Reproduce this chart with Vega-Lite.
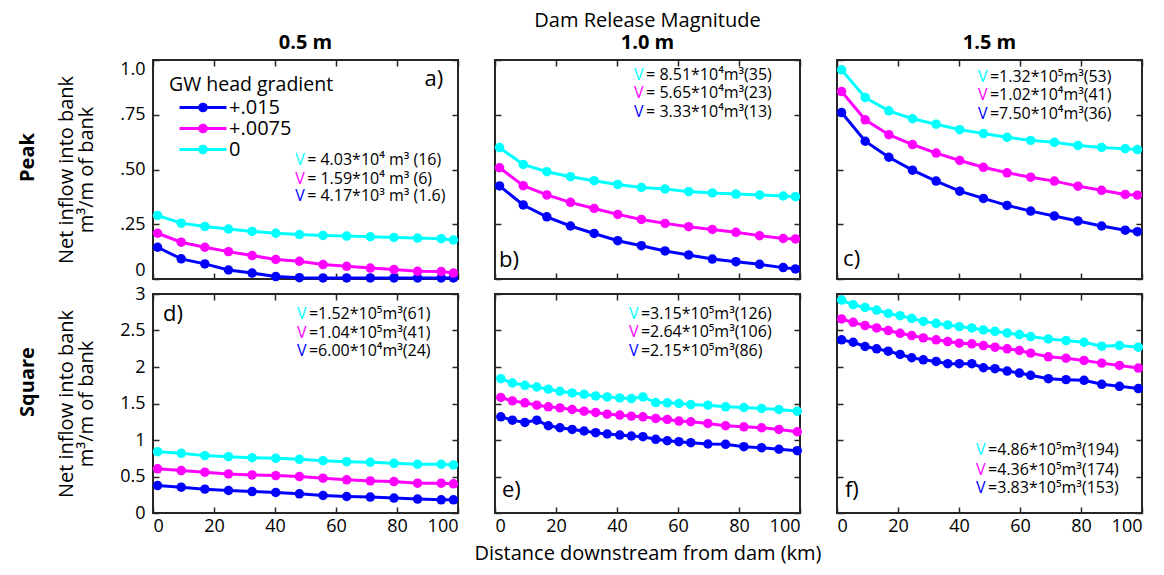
{
"$schema":"https://vega.github.io/schema/vega-lite/v6.json",
"background":"white",
"padding":{"left":17,"top":10,"right":5,"bottom":5},
"config":{
 "font":"Open Sans",
 "view":{"stroke":"#262626","strokeWidth":2},
 "axis":{"domain":false,"grid":false,"tickColor":"#262626","tickWidth":1.5,"tickSize":-6,"labelFontSize":18,"labelColor":"black","titleFontSize":20,"titleFontWeight":"normal","titleColor":"black","titleLineHeight":20},
 "axisX":{"labelPadding":10,"titlePadding":8},
 "axisY":{"labelPadding":14,"titlePadding":23},
 "title":{"fontSize":20,"color":"black","offset":6,"fontWeight":"normal","subtitleColor":"black","subtitleFontSize":20,"subtitleFontWeight":"bold","subtitlePadding":2,"subtitleFont":"Open Sans"},
 "range":{"category":["#0000ff","#ff00ff","#00ffff"]}
},
"datasets":{
"curves":[
{"panel":"a","km":1.5,"high":0.145,"mid":0.209,"none":0.29},
{"panel":"a","km":9.25,"high":0.092,"mid":0.168,"none":0.255},
{"panel":"a","km":17,"high":0.069,"mid":0.145,"none":0.24},
{"panel":"a","km":24.75,"high":0.041,"mid":0.125,"none":0.228},
{"panel":"a","km":32.5,"high":0.027,"mid":0.107,"none":0.217},
{"panel":"a","km":40.25,"high":0.011,"mid":0.089,"none":0.209},
{"panel":"a","km":48,"high":0.006,"mid":0.081,"none":0.203},
{"panel":"a","km":55.75,"high":0.005,"mid":0.066,"none":0.199},
{"panel":"a","km":63.5,"high":0.005,"mid":0.058,"none":0.196},
{"panel":"a","km":71.25,"high":0.005,"mid":0.05,"none":0.193},
{"panel":"a","km":79,"high":0.005,"mid":0.043,"none":0.19},
{"panel":"a","km":86.75,"high":0.005,"mid":0.035,"none":0.187},
{"panel":"a","km":94.5,"high":0.005,"mid":0.034,"none":0.184},
{"panel":"a","km":98.5,"high":0.005,"mid":0.027,"none":0.178},
{"panel":"b","km":1.5,"high":0.425,"mid":0.508,"none":0.6},
{"panel":"b","km":9.25,"high":0.338,"mid":0.426,"none":0.523},
{"panel":"b","km":17,"high":0.284,"mid":0.384,"none":0.49},
{"panel":"b","km":24.75,"high":0.242,"mid":0.35,"none":0.467},
{"panel":"b","km":32.5,"high":0.208,"mid":0.322,"none":0.449},
{"panel":"b","km":40.25,"high":0.175,"mid":0.295,"none":0.432},
{"panel":"b","km":48,"high":0.152,"mid":0.272,"none":0.418},
{"panel":"b","km":55.75,"high":0.128,"mid":0.254,"none":0.411},
{"panel":"b","km":63.5,"high":0.11,"mid":0.239,"none":0.399},
{"panel":"b","km":71.25,"high":0.091,"mid":0.226,"none":0.393},
{"panel":"b","km":79,"high":0.079,"mid":0.213,"none":0.388},
{"panel":"b","km":86.75,"high":0.067,"mid":0.198,"none":0.384},
{"panel":"b","km":94.5,"high":0.052,"mid":0.185,"none":0.379},
{"panel":"b","km":98.5,"high":0.046,"mid":0.183,"none":0.376},
{"panel":"c","km":1.5,"high":0.76,"mid":0.856,"none":0.955},
{"panel":"c","km":9.25,"high":0.629,"mid":0.727,"none":0.829},
{"panel":"c","km":17,"high":0.556,"mid":0.659,"none":0.768},
{"panel":"c","km":24.75,"high":0.497,"mid":0.614,"none":0.732},
{"panel":"c","km":32.5,"high":0.447,"mid":0.575,"none":0.707},
{"panel":"c","km":40.25,"high":0.401,"mid":0.541,"none":0.682},
{"panel":"c","km":48,"high":0.368,"mid":0.51,"none":0.664},
{"panel":"c","km":55.75,"high":0.336,"mid":0.485,"none":0.647},
{"panel":"c","km":63.5,"high":0.31,"mid":0.465,"none":0.633},
{"panel":"c","km":71.25,"high":0.288,"mid":0.447,"none":0.624},
{"panel":"c","km":79,"high":0.265,"mid":0.424,"none":0.61},
{"panel":"c","km":86.75,"high":0.242,"mid":0.405,"none":0.601},
{"panel":"c","km":94.5,"high":0.223,"mid":0.386,"none":0.595},
{"panel":"c","km":98.5,"high":0.216,"mid":0.383,"none":0.591},
{"panel":"d","km":1.5,"high":0.376,"mid":0.605,"none":0.84},
{"panel":"d","km":9.25,"high":0.354,"mid":0.581,"none":0.817},
{"panel":"d","km":17,"high":0.327,"mid":0.559,"none":0.786},
{"panel":"d","km":24.75,"high":0.308,"mid":0.535,"none":0.772},
{"panel":"d","km":32.5,"high":0.294,"mid":0.522,"none":0.758},
{"panel":"d","km":40.25,"high":0.281,"mid":0.512,"none":0.749},
{"panel":"d","km":48,"high":0.263,"mid":0.499,"none":0.736},
{"panel":"d","km":55.75,"high":0.24,"mid":0.477,"none":0.717},
{"panel":"d","km":63.5,"high":0.226,"mid":0.454,"none":0.703},
{"panel":"d","km":71.25,"high":0.218,"mid":0.44,"none":0.695},
{"panel":"d","km":79,"high":0.204,"mid":0.431,"none":0.681},
{"panel":"d","km":86.75,"high":0.191,"mid":0.409,"none":0.668},
{"panel":"d","km":94.5,"high":0.181,"mid":0.409,"none":0.668},
{"panel":"d","km":98.5,"high":0.181,"mid":0.4,"none":0.658},
{"panel":"e","km":1.9,"high":1.318,"mid":1.582,"none":1.84},
{"panel":"e","km":5.7,"high":1.272,"mid":1.536,"none":1.781},
{"panel":"e","km":9.8,"high":1.241,"mid":1.509,"none":1.749},
{"panel":"e","km":13.7,"high":1.272,"mid":1.477,"none":1.726},
{"panel":"e","km":17.5,"high":1.195,"mid":1.454,"none":1.695},
{"panel":"e","km":21.3,"high":1.168,"mid":1.44,"none":1.668},
{"panel":"e","km":25.3,"high":1.145,"mid":1.418,"none":1.645},
{"panel":"e","km":29.2,"high":1.123,"mid":1.395,"none":1.627},
{"panel":"e","km":33,"high":1.1,"mid":1.377,"none":1.604},
{"panel":"e","km":36.8,"high":1.082,"mid":1.354,"none":1.59},
{"panel":"e","km":40.9,"high":1.068,"mid":1.341,"none":1.577},
{"panel":"e","km":44.7,"high":1.055,"mid":1.327,"none":1.568},
{"panel":"e","km":48.5,"high":1.045,"mid":1.318,"none":1.59},
{"panel":"e","km":52.7,"high":1.009,"mid":1.295,"none":1.513},
{"panel":"e","km":56.5,"high":0.99,"mid":1.282,"none":1.509},
{"panel":"e","km":60.3,"high":0.977,"mid":1.259,"none":1.5},
{"panel":"e","km":64.2,"high":0.963,"mid":1.25,"none":1.486},
{"panel":"e","km":69.8,"high":0.945,"mid":1.227,"none":1.477},
{"panel":"e","km":75.6,"high":0.941,"mid":1.195,"none":1.454},
{"panel":"e","km":81.6,"high":0.909,"mid":1.181,"none":1.445},
{"panel":"e","km":87.4,"high":0.895,"mid":1.168,"none":1.432},
{"panel":"e","km":93.1,"high":0.873,"mid":1.145,"none":1.418},
{"panel":"e","km":99.1,"high":0.854,"mid":1.113,"none":1.395},
{"panel":"f","km":1.5,"high":2.372,"mid":2.658,"none":2.917},
{"panel":"f","km":5.3,"high":2.339,"mid":2.612,"none":2.853},
{"panel":"f","km":9.2,"high":2.281,"mid":2.567,"none":2.816},
{"panel":"f","km":13,"high":2.249,"mid":2.535,"none":2.78},
{"panel":"f","km":16.8,"high":2.217,"mid":2.499,"none":2.734},
{"panel":"f","km":20.7,"high":2.172,"mid":2.462,"none":2.703},
{"panel":"f","km":24.5,"high":2.127,"mid":2.431,"none":2.666},
{"panel":"f","km":28.3,"high":2.099,"mid":2.399,"none":2.625},
{"panel":"f","km":32.5,"high":2.076,"mid":2.372,"none":2.598},
{"panel":"f","km":36.3,"high":2.045,"mid":2.349,"none":2.576},
{"panel":"f","km":40.1,"high":2.045,"mid":2.326,"none":2.553},
{"panel":"f","km":44.2,"high":2.045,"mid":2.317,"none":2.535},
{"panel":"f","km":48,"high":1.99,"mid":2.294,"none":2.508},
{"panel":"f","km":51.8,"high":1.977,"mid":2.271,"none":2.489},
{"panel":"f","km":55.8,"high":1.944,"mid":2.249,"none":2.467},
{"panel":"f","km":59.8,"high":1.917,"mid":2.226,"none":2.444},
{"panel":"f","km":63.5,"high":1.886,"mid":2.19,"none":2.417},
{"panel":"f","km":69.3,"high":1.84,"mid":2.14,"none":2.385},
{"panel":"f","km":75.1,"high":1.827,"mid":2.12,"none":2.362},
{"panel":"f","km":81,"high":1.817,"mid":2.09,"none":2.339},
{"panel":"f","km":86.8,"high":1.763,"mid":2.053,"none":2.285},
{"panel":"f","km":92.6,"high":1.736,"mid":2.022,"none":2.294},
{"panel":"f","km":98.8,"high":1.704,"mid":1.985,"none":2.271}
],
"notes":[
{"panel":"a","gradient":"none","rest":"= 4.03*10⁴ m³ (16)"},
{"panel":"a","gradient":"mid","rest":"= 1.59*10⁴ m³ (6)"},
{"panel":"a","gradient":"high","rest":"= 4.17*10³ m³ (1.6)"},
{"panel":"b","gradient":"none","rest":"= 8.51*10⁴m³(35)"},
{"panel":"b","gradient":"mid","rest":"= 5.65*10⁴m³(23)"},
{"panel":"b","gradient":"high","rest":"= 3.33*10⁴m³(13)"},
{"panel":"c","gradient":"none","rest":"=1.32*10⁵m³(53)"},
{"panel":"c","gradient":"mid","rest":"=1.02*10⁴m³(41)"},
{"panel":"c","gradient":"high","rest":"=7.50*10⁴m³(36)"},
{"panel":"d","gradient":"none","rest":"=1.52*10⁵m³(61)"},
{"panel":"d","gradient":"mid","rest":"=1.04*10⁵m³(41)"},
{"panel":"d","gradient":"high","rest":"=6.00*10⁴m³(24)"},
{"panel":"e","gradient":"none","rest":"=3.15*10⁵m³(126)"},
{"panel":"e","gradient":"mid","rest":"=2.64*10⁵m³(106)"},
{"panel":"e","gradient":"high","rest":"=2.15*10⁵m³(86)"},
{"panel":"f","gradient":"none","rest":"=4.86*10⁵m³(194)"},
{"panel":"f","gradient":"mid","rest":"=4.36*10⁵m³(174)"},
{"panel":"f","gradient":"high","rest":"=3.83*10⁵m³(153)"}
]
},
"resolve":{"scale":{"color":"independent"},"legend":{"color":"independent"}},
"spacing":-1,
"vconcat":[
{"title":{"text":"Peak","orient":"left","fontWeight":"bold","fontSize":20,"offset":18,"anchor":"middle","dx":-10},
 "spacing":37,"bounds":"flush",
 "resolve":{"scale":{"color":"independent"},"legend":{"color":"independent"}},
 "hconcat":[
 {"width":305,"height":219,"title":{"text":" ","subtitle":"0.5 m"},
  "resolve":{"axis":{"x":"independent","y":"independent"}},
  "layer":[
   {"data":{"name":"curves"},"transform":[{"filter":"datum.panel=='a'"},{"fold":["high","mid","none"],"as":["gradient","flow"]}],
    "mark":{"type":"line","strokeWidth":3},
    "encoding":{
     "x":{"field":"km","type":"quantitative","scale":{"domain":[0,100]},"axis":{"orient":"bottom","values":[0,20,40,60,80,100],"labels":false,"title":null}},
     "y":{"field":"flow","type":"quantitative","scale":{"domain":[0,1]},"axis":{"orient":"left","values":[0,0.25,0.5,0.75,1],"labelFlush":true,"labelExpr":"datum.value==0?'0':datum.value==1?'1.0':replace(format(datum.value,'.2f'),'0.','.')","title":["Net inflow into bank","m³/m of bank"]}},
     "color":{"field":"gradient","type":"nominal","legend":{"orient":"top-left","offset":16,"padding":0,"title":"GW head gradient","titleFontSize":19.5,"titleFontWeight":"normal","titleColor":"black","titlePadding":2,"labelFontSize":20,"labelColor":"black","labelExpr":"datum.label=='high'?'+.015':datum.label=='mid'?'+.0075':'0'","symbolType":"M-4,0H4M0.56,0A0.56,0.56,0,1,1,-0.56,0A0.56,0.56,0,1,1,0.56,0","symbolSize":138,"symbolStrokeWidth":3,"symbolOffset":24,"labelOffset":16,"rowPadding":1}},
     "strokeWidth":{"condition":{"test":"datum.gradient=='high'","value":1.5},"value":3}
    }},
   {"data":{"name":"curves"},"transform":[{"filter":"datum.panel=='a'"},{"fold":["high","mid","none"],"as":["gradient","flow"]}],
    "mark":{"type":"circle","size":90,"opacity":1},
    "encoding":{
     "x":{"field":"km","type":"quantitative","scale":{"domain":[0,100]},"axis":{"orient":"top","values":[0,20,40,60,80,100],"labels":false,"title":null}},
     "y":{"field":"flow","type":"quantitative","scale":{"domain":[0,1]},"axis":{"orient":"right","values":[0,0.25,0.5,0.75,1],"labels":false,"title":null}},
     "color":{"field":"gradient","type":"nominal","legend":null}
    }},
   {"data":{"name":"notes"},"transform":[{"filter":"datum.panel=='a' && datum.gradient=='none'"}],
    "encoding":{"x":{"datum":46.6,"type":"quantitative","scale":{"domain":[0,100]},"axis":null},"y":{"datum":0.542,"type":"quantitative","scale":{"domain":[0,1]},"axis":null}},
    "layer":[
     {"mark":{"type":"text","align":"left","baseline":"middle","fontSize":16},"encoding":{"text":{"value":"V"},"color":{"field":"gradient","type":"nominal","legend":null}}},
     {"mark":{"type":"text","align":"left","baseline":"middle","fontSize":16,"dx":12,"color":"black"},"encoding":{"text":{"field":"rest","type":"nominal"}}}]},
   {"data":{"name":"notes"},"transform":[{"filter":"datum.panel=='a' && datum.gradient=='mid'"}],
    "encoding":{"x":{"datum":46.6,"type":"quantitative","scale":{"domain":[0,100]},"axis":null},"y":{"datum":0.458,"type":"quantitative","scale":{"domain":[0,1]},"axis":null}},
    "layer":[
     {"mark":{"type":"text","align":"left","baseline":"middle","fontSize":16},"encoding":{"text":{"value":"V"},"color":{"field":"gradient","type":"nominal","legend":null}}},
     {"mark":{"type":"text","align":"left","baseline":"middle","fontSize":16,"dx":12,"color":"black"},"encoding":{"text":{"field":"rest","type":"nominal"}}}]},
   {"data":{"name":"notes"},"transform":[{"filter":"datum.panel=='a' && datum.gradient=='high'"}],
    "encoding":{"x":{"datum":46.6,"type":"quantitative","scale":{"domain":[0,100]},"axis":null},"y":{"datum":0.379,"type":"quantitative","scale":{"domain":[0,1]},"axis":null}},
    "layer":[
     {"mark":{"type":"text","align":"left","baseline":"middle","fontSize":16},"encoding":{"text":{"value":"V"},"color":{"field":"gradient","type":"nominal","legend":null}}},
     {"mark":{"type":"text","align":"left","baseline":"middle","fontSize":16,"dx":12,"color":"black"},"encoding":{"text":{"field":"rest","type":"nominal"}}}]},
   {"data":{"values":[{"tag":"a)"}]},"mark":{"type":"text","align":"left","baseline":"middle","fontSize":22,"color":"black"},
    "encoding":{"x":{"datum":89,"type":"quantitative","scale":{"domain":[0,100]},"axis":null},"y":{"datum":0.914,"type":"quantitative","scale":{"domain":[0,1]},"axis":null},"text":{"field":"tag","type":"nominal"}}}
  ]},
 {"width":305,"height":219,"title":{"text":"Dam Release Magnitude","subtitle":"1.0 m"},
  "resolve":{"axis":{"x":"independent","y":"independent"}},
  "layer":[
   {"data":{"name":"curves"},"transform":[{"filter":"datum.panel=='b'"},{"fold":["high","mid","none"],"as":["gradient","flow"]}],
    "mark":{"type":"line","strokeWidth":3},
    "encoding":{
     "x":{"field":"km","type":"quantitative","scale":{"domain":[0,100]},"axis":{"orient":"bottom","values":[0,20,40,60,80,100],"labels":false,"title":null}},
     "y":{"field":"flow","type":"quantitative","scale":{"domain":[0,1]},"axis":{"orient":"left","values":[0,0.25,0.5,0.75,1],"labels":false,"title":null}},
     "color":{"field":"gradient","type":"nominal","legend":null}
    }},
   {"data":{"name":"curves"},"transform":[{"filter":"datum.panel=='b'"},{"fold":["high","mid","none"],"as":["gradient","flow"]}],
    "mark":{"type":"circle","size":90,"opacity":1},
    "encoding":{
     "x":{"field":"km","type":"quantitative","scale":{"domain":[0,100]},"axis":{"orient":"top","values":[0,20,40,60,80,100],"labels":false,"title":null}},
     "y":{"field":"flow","type":"quantitative","scale":{"domain":[0,1]},"axis":{"orient":"right","values":[0,0.25,0.5,0.75,1],"labels":false,"title":null}},
     "color":{"field":"gradient","type":"nominal","legend":null}
    }},
   {"data":{"name":"notes"},"transform":[{"filter":"datum.panel=='b' && datum.gradient=='none'"}],
    "encoding":{"x":{"datum":45.6,"type":"quantitative","scale":{"domain":[0,100]},"axis":null},"y":{"datum":0.932,"type":"quantitative","scale":{"domain":[0,1]},"axis":null}},
    "layer":[
     {"mark":{"type":"text","align":"left","baseline":"middle","fontSize":16},"encoding":{"text":{"value":"V"},"color":{"field":"gradient","type":"nominal","legend":null}}},
     {"mark":{"type":"text","align":"left","baseline":"middle","fontSize":16,"dx":12,"color":"black"},"encoding":{"text":{"field":"rest","type":"nominal"}}}]},
   {"data":{"name":"notes"},"transform":[{"filter":"datum.panel=='b' && datum.gradient=='mid'"}],
    "encoding":{"x":{"datum":45.6,"type":"quantitative","scale":{"domain":[0,100]},"axis":null},"y":{"datum":0.848,"type":"quantitative","scale":{"domain":[0,1]},"axis":null}},
    "layer":[
     {"mark":{"type":"text","align":"left","baseline":"middle","fontSize":16},"encoding":{"text":{"value":"V"},"color":{"field":"gradient","type":"nominal","legend":null}}},
     {"mark":{"type":"text","align":"left","baseline":"middle","fontSize":16,"dx":12,"color":"black"},"encoding":{"text":{"field":"rest","type":"nominal"}}}]},
   {"data":{"name":"notes"},"transform":[{"filter":"datum.panel=='b' && datum.gradient=='high'"}],
    "encoding":{"x":{"datum":45.6,"type":"quantitative","scale":{"domain":[0,100]},"axis":null},"y":{"datum":0.764,"type":"quantitative","scale":{"domain":[0,1]},"axis":null}},
    "layer":[
     {"mark":{"type":"text","align":"left","baseline":"middle","fontSize":16},"encoding":{"text":{"value":"V"},"color":{"field":"gradient","type":"nominal","legend":null}}},
     {"mark":{"type":"text","align":"left","baseline":"middle","fontSize":16,"dx":12,"color":"black"},"encoding":{"text":{"field":"rest","type":"nominal"}}}]},
   {"data":{"values":[{"tag":"b)"}]},"mark":{"type":"text","align":"left","baseline":"middle","fontSize":22,"color":"black"},
    "encoding":{"x":{"datum":1.3,"type":"quantitative","scale":{"domain":[0,100]},"axis":null},"y":{"datum":0.088,"type":"quantitative","scale":{"domain":[0,1]},"axis":null},"text":{"field":"tag","type":"nominal"}}}
  ]},
 {"width":305,"height":219,"title":{"text":" ","subtitle":"1.5 m"},
  "resolve":{"axis":{"x":"independent","y":"independent"}},
  "layer":[
   {"data":{"name":"curves"},"transform":[{"filter":"datum.panel=='c'"},{"fold":["high","mid","none"],"as":["gradient","flow"]}],
    "mark":{"type":"line","strokeWidth":3},
    "encoding":{
     "x":{"field":"km","type":"quantitative","scale":{"domain":[0,100]},"axis":{"orient":"bottom","values":[0,20,40,60,80,100],"labels":false,"title":null}},
     "y":{"field":"flow","type":"quantitative","scale":{"domain":[0,1]},"axis":{"orient":"left","values":[0,0.25,0.5,0.75,1],"labels":false,"title":null}},
     "color":{"field":"gradient","type":"nominal","legend":null}
    }},
   {"data":{"name":"curves"},"transform":[{"filter":"datum.panel=='c'"},{"fold":["high","mid","none"],"as":["gradient","flow"]}],
    "mark":{"type":"circle","size":90,"opacity":1},
    "encoding":{
     "x":{"field":"km","type":"quantitative","scale":{"domain":[0,100]},"axis":{"orient":"top","values":[0,20,40,60,80,100],"labels":false,"title":null}},
     "y":{"field":"flow","type":"quantitative","scale":{"domain":[0,1]},"axis":{"orient":"right","values":[0,0.25,0.5,0.75,1],"labels":false,"title":null}},
     "color":{"field":"gradient","type":"nominal","legend":null}
    }},
   {"data":{"name":"notes"},"transform":[{"filter":"datum.panel=='c' && datum.gradient=='none'"}],
    "encoding":{"x":{"datum":46.2,"type":"quantitative","scale":{"domain":[0,100]},"axis":null},"y":{"datum":0.924,"type":"quantitative","scale":{"domain":[0,1]},"axis":null}},
    "layer":[
     {"mark":{"type":"text","align":"left","baseline":"middle","fontSize":16},"encoding":{"text":{"value":"V"},"color":{"field":"gradient","type":"nominal","legend":null}}},
     {"mark":{"type":"text","align":"left","baseline":"middle","fontSize":16,"dx":12,"color":"black"},"encoding":{"text":{"field":"rest","type":"nominal"}}}]},
   {"data":{"name":"notes"},"transform":[{"filter":"datum.panel=='c' && datum.gradient=='mid'"}],
    "encoding":{"x":{"datum":46.2,"type":"quantitative","scale":{"domain":[0,100]},"axis":null},"y":{"datum":0.841,"type":"quantitative","scale":{"domain":[0,1]},"axis":null}},
    "layer":[
     {"mark":{"type":"text","align":"left","baseline":"middle","fontSize":16},"encoding":{"text":{"value":"V"},"color":{"field":"gradient","type":"nominal","legend":null}}},
     {"mark":{"type":"text","align":"left","baseline":"middle","fontSize":16,"dx":12,"color":"black"},"encoding":{"text":{"field":"rest","type":"nominal"}}}]},
   {"data":{"name":"notes"},"transform":[{"filter":"datum.panel=='c' && datum.gradient=='high'"}],
    "encoding":{"x":{"datum":46.2,"type":"quantitative","scale":{"domain":[0,100]},"axis":null},"y":{"datum":0.753,"type":"quantitative","scale":{"domain":[0,1]},"axis":null}},
    "layer":[
     {"mark":{"type":"text","align":"left","baseline":"middle","fontSize":16},"encoding":{"text":{"value":"V"},"color":{"field":"gradient","type":"nominal","legend":null}}},
     {"mark":{"type":"text","align":"left","baseline":"middle","fontSize":16,"dx":12,"color":"black"},"encoding":{"text":{"field":"rest","type":"nominal"}}}]},
   {"data":{"values":[{"tag":"c)"}]},"mark":{"type":"text","align":"left","baseline":"middle","fontSize":22,"color":"black"},
    "encoding":{"x":{"datum":2,"type":"quantitative","scale":{"domain":[0,100]},"axis":null},"y":{"datum":0.09,"type":"quantitative","scale":{"domain":[0,1]},"axis":null},"text":{"field":"tag","type":"nominal"}}}
  ]}
 ]},
{"title":{"text":"Square","orient":"left","fontWeight":"bold","fontSize":20,"offset":18,"anchor":"middle","dx":42},
 "spacing":37,"bounds":"flush",
 "resolve":{"scale":{"color":"independent"},"legend":{"color":"independent"}},
 "hconcat":[
 {"width":305,"height":219,
  "resolve":{"axis":{"x":"independent","y":"independent"}},
  "layer":[
   {"data":{"name":"curves"},"transform":[{"filter":"datum.panel=='d'"},{"fold":["high","mid","none"],"as":["gradient","flow"]}],
    "mark":{"type":"line","strokeWidth":3},
    "encoding":{
     "x":{"field":"km","type":"quantitative","scale":{"domain":[0,100]},"axis":{"orient":"bottom","values":[0,20,40,60,80,100],"title":null}},
     "y":{"field":"flow","type":"quantitative","scale":{"domain":[0,3]},"axis":{"orient":"left","values":[0,0.5,1,1.5,2,2.5,3],"format":"~g","title":["Net inflow into bank","m³/m of bank"]}},
     "color":{"field":"gradient","type":"nominal","legend":null},
     "strokeWidth":{"condition":{"test":"datum.gradient=='high'","value":1.5},"value":3}
    }},
   {"data":{"name":"curves"},"transform":[{"filter":"datum.panel=='d'"},{"fold":["high","mid","none"],"as":["gradient","flow"]}],
    "mark":{"type":"circle","size":90,"opacity":1},
    "encoding":{
     "x":{"field":"km","type":"quantitative","scale":{"domain":[0,100]},"axis":{"orient":"top","values":[0,20,40,60,80,100],"labels":false,"title":null}},
     "y":{"field":"flow","type":"quantitative","scale":{"domain":[0,3]},"axis":{"orient":"right","values":[0,0.5,1,1.5,2,2.5,3],"labels":false,"title":null}},
     "color":{"field":"gradient","type":"nominal","legend":null}
    }},
   {"data":{"name":"notes"},"transform":[{"filter":"datum.panel=='d' && datum.gradient=='none'"}],
    "encoding":{"x":{"datum":47.2,"type":"quantitative","scale":{"domain":[0,100]},"axis":null},"y":{"datum":2.726,"type":"quantitative","scale":{"domain":[0,3]},"axis":null}},
    "layer":[
     {"mark":{"type":"text","align":"left","baseline":"middle","fontSize":16},"encoding":{"text":{"value":"V"},"color":{"field":"gradient","type":"nominal","legend":null}}},
     {"mark":{"type":"text","align":"left","baseline":"middle","fontSize":16,"dx":12,"color":"black"},"encoding":{"text":{"field":"rest","type":"nominal"}}}]},
   {"data":{"name":"notes"},"transform":[{"filter":"datum.panel=='d' && datum.gradient=='mid'"}],
    "encoding":{"x":{"datum":47.2,"type":"quantitative","scale":{"domain":[0,100]},"axis":null},"y":{"datum":2.466,"type":"quantitative","scale":{"domain":[0,3]},"axis":null}},
    "layer":[
     {"mark":{"type":"text","align":"left","baseline":"middle","fontSize":16},"encoding":{"text":{"value":"V"},"color":{"field":"gradient","type":"nominal","legend":null}}},
     {"mark":{"type":"text","align":"left","baseline":"middle","fontSize":16,"dx":12,"color":"black"},"encoding":{"text":{"field":"rest","type":"nominal"}}}]},
   {"data":{"name":"notes"},"transform":[{"filter":"datum.panel=='d' && datum.gradient=='high'"}],
    "encoding":{"x":{"datum":47.2,"type":"quantitative","scale":{"domain":[0,100]},"axis":null},"y":{"datum":2.217,"type":"quantitative","scale":{"domain":[0,3]},"axis":null}},
    "layer":[
     {"mark":{"type":"text","align":"left","baseline":"middle","fontSize":16},"encoding":{"text":{"value":"V"},"color":{"field":"gradient","type":"nominal","legend":null}}},
     {"mark":{"type":"text","align":"left","baseline":"middle","fontSize":16,"dx":12,"color":"black"},"encoding":{"text":{"field":"rest","type":"nominal"}}}]},
   {"data":{"values":[{"tag":"d)"}]},"mark":{"type":"text","align":"left","baseline":"middle","fontSize":22,"color":"black"},
    "encoding":{"x":{"datum":3.3,"type":"quantitative","scale":{"domain":[0,100]},"axis":null},"y":{"datum":2.73,"type":"quantitative","scale":{"domain":[0,3]},"axis":null},"text":{"field":"tag","type":"nominal"}}}
  ]},
 {"width":305,"height":219,
  "resolve":{"axis":{"x":"independent","y":"independent"}},
  "layer":[
   {"data":{"name":"curves"},"transform":[{"filter":"datum.panel=='e'"},{"fold":["high","mid","none"],"as":["gradient","flow"]}],
    "mark":{"type":"line","strokeWidth":3},
    "encoding":{
     "x":{"field":"km","type":"quantitative","scale":{"domain":[0,100]},"axis":{"orient":"bottom","values":[0,20,40,60,80,100],"title":"Distance downstream from dam (km)"}},
     "y":{"field":"flow","type":"quantitative","scale":{"domain":[0,3]},"axis":{"orient":"left","values":[0,0.5,1,1.5,2,2.5,3],"labels":false,"title":null}},
     "color":{"field":"gradient","type":"nominal","legend":null}
    }},
   {"data":{"name":"curves"},"transform":[{"filter":"datum.panel=='e'"},{"fold":["high","mid","none"],"as":["gradient","flow"]}],
    "mark":{"type":"circle","size":90,"opacity":1},
    "encoding":{
     "x":{"field":"km","type":"quantitative","scale":{"domain":[0,100]},"axis":{"orient":"top","values":[0,20,40,60,80,100],"labels":false,"title":null}},
     "y":{"field":"flow","type":"quantitative","scale":{"domain":[0,3]},"axis":{"orient":"right","values":[0,0.5,1,1.5,2,2.5,3],"labels":false,"title":null}},
     "color":{"field":"gradient","type":"nominal","legend":null}
    }},
   {"data":{"name":"notes"},"transform":[{"filter":"datum.panel=='e' && datum.gradient=='none'"}],
    "encoding":{"x":{"datum":43.9,"type":"quantitative","scale":{"domain":[0,100]},"axis":null},"y":{"datum":2.726,"type":"quantitative","scale":{"domain":[0,3]},"axis":null}},
    "layer":[
     {"mark":{"type":"text","align":"left","baseline":"middle","fontSize":16},"encoding":{"text":{"value":"V"},"color":{"field":"gradient","type":"nominal","legend":null}}},
     {"mark":{"type":"text","align":"left","baseline":"middle","fontSize":16,"dx":12,"color":"black"},"encoding":{"text":{"field":"rest","type":"nominal"}}}]},
   {"data":{"name":"notes"},"transform":[{"filter":"datum.panel=='e' && datum.gradient=='mid'"}],
    "encoding":{"x":{"datum":43.9,"type":"quantitative","scale":{"domain":[0,100]},"axis":null},"y":{"datum":2.476,"type":"quantitative","scale":{"domain":[0,3]},"axis":null}},
    "layer":[
     {"mark":{"type":"text","align":"left","baseline":"middle","fontSize":16},"encoding":{"text":{"value":"V"},"color":{"field":"gradient","type":"nominal","legend":null}}},
     {"mark":{"type":"text","align":"left","baseline":"middle","fontSize":16,"dx":12,"color":"black"},"encoding":{"text":{"field":"rest","type":"nominal"}}}]},
   {"data":{"name":"notes"},"transform":[{"filter":"datum.panel=='e' && datum.gradient=='high'"}],
    "encoding":{"x":{"datum":43.9,"type":"quantitative","scale":{"domain":[0,100]},"axis":null},"y":{"datum":2.226,"type":"quantitative","scale":{"domain":[0,3]},"axis":null}},
    "layer":[
     {"mark":{"type":"text","align":"left","baseline":"middle","fontSize":16},"encoding":{"text":{"value":"V"},"color":{"field":"gradient","type":"nominal","legend":null}}},
     {"mark":{"type":"text","align":"left","baseline":"middle","fontSize":16,"dx":12,"color":"black"},"encoding":{"text":{"field":"rest","type":"nominal"}}}]},
   {"data":{"values":[{"tag":"e)"}]},"mark":{"type":"text","align":"left","baseline":"middle","fontSize":22,"color":"black"},
    "encoding":{"x":{"datum":2.3,"type":"quantitative","scale":{"domain":[0,100]},"axis":null},"y":{"datum":0.32,"type":"quantitative","scale":{"domain":[0,3]},"axis":null},"text":{"field":"tag","type":"nominal"}}}
  ]},
 {"width":305,"height":219,
  "resolve":{"axis":{"x":"independent","y":"independent"}},
  "layer":[
   {"data":{"name":"curves"},"transform":[{"filter":"datum.panel=='f'"},{"fold":["high","mid","none"],"as":["gradient","flow"]}],
    "mark":{"type":"line","strokeWidth":3},
    "encoding":{
     "x":{"field":"km","type":"quantitative","scale":{"domain":[0,100]},"axis":{"orient":"bottom","values":[0,20,40,60,80,100],"title":null}},
     "y":{"field":"flow","type":"quantitative","scale":{"domain":[0,3]},"axis":{"orient":"left","values":[0,0.5,1,1.5,2,2.5,3],"labels":false,"title":null}},
     "color":{"field":"gradient","type":"nominal","legend":null}
    }},
   {"data":{"name":"curves"},"transform":[{"filter":"datum.panel=='f'"},{"fold":["high","mid","none"],"as":["gradient","flow"]}],
    "mark":{"type":"circle","size":90,"opacity":1},
    "encoding":{
     "x":{"field":"km","type":"quantitative","scale":{"domain":[0,100]},"axis":{"orient":"top","values":[0,20,40,60,80,100],"labels":false,"title":null}},
     "y":{"field":"flow","type":"quantitative","scale":{"domain":[0,3]},"axis":{"orient":"right","values":[0,0.5,1,1.5,2,2.5,3],"labels":false,"title":null}},
     "color":{"field":"gradient","type":"nominal","legend":null}
    }},
   {"data":{"name":"notes"},"transform":[{"filter":"datum.panel=='f' && datum.gradient=='none'"}],
    "encoding":{"x":{"datum":45.6,"type":"quantitative","scale":{"domain":[0,100]},"axis":null},"y":{"datum":0.864,"type":"quantitative","scale":{"domain":[0,3]},"axis":null}},
    "layer":[
     {"mark":{"type":"text","align":"left","baseline":"middle","fontSize":16},"encoding":{"text":{"value":"V"},"color":{"field":"gradient","type":"nominal","legend":null}}},
     {"mark":{"type":"text","align":"left","baseline":"middle","fontSize":16,"dx":12,"color":"black"},"encoding":{"text":{"field":"rest","type":"nominal"}}}]},
   {"data":{"name":"notes"},"transform":[{"filter":"datum.panel=='f' && datum.gradient=='mid'"}],
    "encoding":{"x":{"datum":45.6,"type":"quantitative","scale":{"domain":[0,100]},"axis":null},"y":{"datum":0.59,"type":"quantitative","scale":{"domain":[0,3]},"axis":null}},
    "layer":[
     {"mark":{"type":"text","align":"left","baseline":"middle","fontSize":16},"encoding":{"text":{"value":"V"},"color":{"field":"gradient","type":"nominal","legend":null}}},
     {"mark":{"type":"text","align":"left","baseline":"middle","fontSize":16,"dx":12,"color":"black"},"encoding":{"text":{"field":"rest","type":"nominal"}}}]},
   {"data":{"name":"notes"},"transform":[{"filter":"datum.panel=='f' && datum.gradient=='high'"}],
    "encoding":{"x":{"datum":45.6,"type":"quantitative","scale":{"domain":[0,100]},"axis":null},"y":{"datum":0.345,"type":"quantitative","scale":{"domain":[0,3]},"axis":null}},
    "layer":[
     {"mark":{"type":"text","align":"left","baseline":"middle","fontSize":16},"encoding":{"text":{"value":"V"},"color":{"field":"gradient","type":"nominal","legend":null}}},
     {"mark":{"type":"text","align":"left","baseline":"middle","fontSize":16,"dx":12,"color":"black"},"encoding":{"text":{"field":"rest","type":"nominal"}}}]},
   {"data":{"values":[{"tag":"f)"}]},"mark":{"type":"text","align":"left","baseline":"middle","fontSize":22,"color":"black"},
    "encoding":{"x":{"datum":2.6,"type":"quantitative","scale":{"domain":[0,100]},"axis":null},"y":{"datum":0.32,"type":"quantitative","scale":{"domain":[0,3]},"axis":null},"text":{"field":"tag","type":"nominal"}}}
  ]}
 ]}
]
}
